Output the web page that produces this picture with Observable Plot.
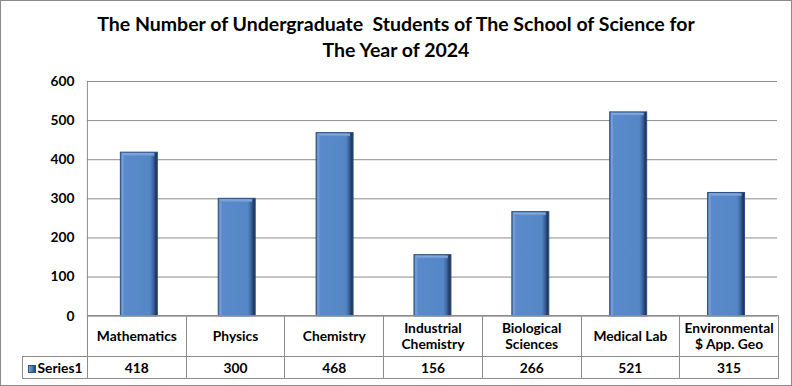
<!DOCTYPE html>
<html>
<head>
<meta charset="utf-8">
<script src="https://cdn.jsdelivr.net/npm/d3@7"></script>
<script src="https://cdn.jsdelivr.net/npm/@observablehq/plot@0.6"></script>
<style>
  html, body { margin: 0; padding: 0; background: #fff; }
  #wrap { position: relative; width: 792px; height: 386px; box-sizing: border-box; border: 1px solid #8c8c8c; overflow: hidden; font-family: Lato, "Open Sans", sans-serif; }
  #title { position: absolute; left: 0; top: 10px; width: 790px; text-align: center; font-weight: bold; font-size: 19.5px; line-height: 26px; color: #000; }
  #chart { position: absolute; left: -1px; top: 69px; }
  #tbl { position: absolute; left: 21px; top: 314px; border-collapse: collapse; table-layout: fixed; font-weight: bold; font-size: 13.8px; color: #000; }
  #tbl td { border: 1px solid #8c8c8c; text-align: center; padding: 0; line-height: 16px; white-space: nowrap; }
  #tbl td.corner { border-top: none; border-left: none; }
  .key { display: inline-block; width: 8px; height: 8px; margin-right: 2px; background: linear-gradient(90deg, #7ea5d8, #4f81bd 40%, #2a4a78); border: 1px solid #2f4f7f; box-sizing: border-box; }
</style>
</head>
<body>
<div id="wrap">
  <div id="title">The Number of Undergraduate&nbsp; Students of The School of Science for<br>The Year of 2024</div>
  <div id="chart"></div>
  <table id="tbl"></table>
</div>
<script>
const categories = ["Mathematics", "Physics", "Chemistry", "Industrial Chemistry", "Biological Sciences", "Medical Lab", "Environmental $ App. Geo"];
const labelLines = [["Mathematics"], ["Physics"], ["Chemistry"], ["Industrial", "Chemistry"], ["Biological", "Sciences"], ["Medical Lab"], ["Environmental", "$ App. Geo"]];
const values = [418, 300, 468, 156, 266, 521, 315];
const yTicks = [0, 100, 200, 300, 400, 500, 600];
const seriesName = "Series1";

const data = categories.map((c, i) => ({category: c, value: values[i]}));

const barInset = 30.5;
const plot = Plot.plot({
  width: 792,
  height: 264,
  marginLeft: 87,
  marginRight: 14,
  marginTop: 11,
  marginBottom: 18,
  style: {fontFamily: "Lato, 'Open Sans', sans-serif", fontSize: "13.8px", fontWeight: "bold", color: "#000", background: "transparent"},
  x: {domain: categories, paddingInner: 0, paddingOuter: 0, axis: null},
  y: {domain: [0, 600], ticks: yTicks, label: null},
  marks: [
    Plot.gridY(yTicks, {stroke: "#8c8c8c", strokeOpacity: 1, strokeWidth: 1}),
    Plot.axisY(yTicks, {tickSize: 0, tickPadding: 13, label: null, fontWeight: "bold", fontSize: 13.8, fill: "#000"}),
    Plot.barY(data, {x: "category", y: "value", fill: "url(#barGrad)", stroke: "#2b4c7e", strokeWidth: 1, insetLeft: barInset, insetRight: barInset}),
    Plot.barY(data, {x: "category", y1: d => d.value - 9, y2: "value", fill: "url(#topGrad)", insetLeft: barInset + 2, insetRight: barInset + 3, insetTop: 1})
  ]
});

// gradients for the bevelled bars
const svg = d3.select(plot);
const defs = svg.insert("defs", ":first-child");
const g1 = defs.append("linearGradient").attr("id", "barGrad").attr("x1", "0").attr("x2", "1").attr("y1", "0").attr("y2", "0");
[["0%", "#3e6aa6"], ["5%", "#7aa2d6"], ["11%", "#5a8acb"], ["80%", "#5586c6"], ["88%", "#3f6aa4"], ["95%", "#263f66"], ["100%", "#1d3252"]]
  .forEach(([o, c]) => g1.append("stop").attr("offset", o).attr("stop-color", c));
const g2 = defs.append("linearGradient").attr("id", "topGrad").attr("x1", "0").attr("x2", "0").attr("y1", "0").attr("y2", "1");
[["0%", "#8fb2e0"], ["100%", "#6393d2"]].forEach(([o, c]) => g2.append("stop").attr("offset", o).attr("stop-color", c));

// left border of the plot area
const xr = plot.scale("x").range, yr = plot.scale("y").range;
svg.append("line").attr("x1", xr[0] + 0.5).attr("x2", xr[0] + 0.5).attr("y1", yr[1]).attr("y2", yr[0])
  .attr("stroke", "#8c8c8c");

document.getElementById("chart").appendChild(plot);

// data table below the chart
const bandW = (xr[1] - xr[0]) / categories.length;
const tbl = d3.select("#tbl");
const cg = tbl.append("colgroup");
cg.append("col").style("width", "65px");
categories.forEach(() => cg.append("col").style("width", bandW + "px"));
const r1 = tbl.append("tr").style("height", "41px");
r1.append("td").attr("class", "corner");
labelLines.forEach(lines => r1.append("td").html(lines.join("<br>")));
const r2 = tbl.append("tr").style("height", "22px");
r2.append("td").html('<span class="key"></span>' + seriesName);
values.forEach(v => r2.append("td").text(v));
</script>
</body>
</html>
